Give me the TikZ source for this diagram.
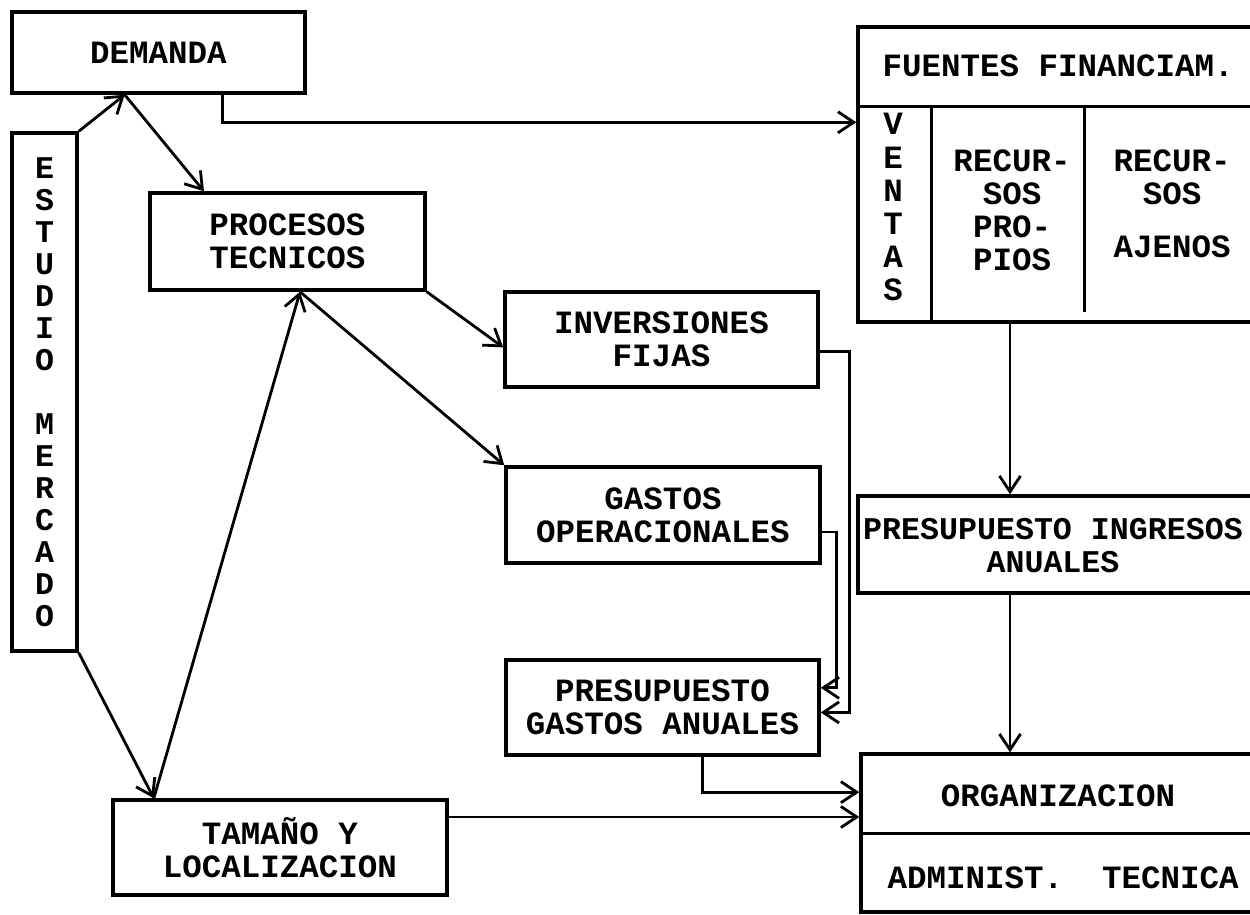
\documentclass[tikz,border=0pt]{standalone}
\usepackage{fontspec}
\setmonofont{Liberation Mono}
\usetikzlibrary{positioning, calc, arrows.meta}

\begin{document}
\begin{tikzpicture}[x=0.02cm, y=-0.02cm,
				every node/.style={font=\ttfamily\bfseries\fontsize{18.5}{18.8}\selectfont},
				caja/.style={draw, line width=2pt, inner sep=0pt, align=center},
				flecha/.style={line width=1.6pt, -{Straight Barb[length=9pt,width=12pt]}}]
				\useasboundingbox (0,0) rectangle (1250,914);
				\clip (0,0) rectangle (1250,914);
				\node[caja, minimum width=5.86cm, minimum height=1.62cm] (demanda) at (158.5,52.5) {DEMANDA};
				\node[caja, minimum width=1.3cm, minimum height=10.36cm, font=\ttfamily\bfseries\fontsize{18}{18.2}\selectfont] (estudio) at (44.5,392)
				{E\\S\\T\\U\\D\\I\\O\\[18.2pt]M\\E\\R\\C\\A\\D\\O};
				\node[caja, minimum width=5.5cm, minimum height=1.94cm] (procesos) at (287.5,241.5) {PROCESOS\\TECNICOS};
				\node[caja, minimum width=6.26cm, minimum height=1.9cm] (inversiones) at (661.5,339.5) {INVERSIONES\\FIJAS};
				\node[caja, minimum width=6.28cm, minimum height=1.92cm] (operacionales) at (663,515) {GASTOS\\OPERACIONALES};
				\node[caja, minimum width=6.26cm, minimum height=1.9cm] (gastos) at (662.5,707.5) {PRESUPUESTO\\GASTOS ANUALES};
				\node[caja, minimum width=6.68cm, minimum height=1.9cm] (tamano) at (280,847.5) {TAMAÑO Y\\LOCALIZACION};
				\node[caja, minimum width=8.08cm, minimum height=5.9cm] (fuentes) at (1060,174.5) {};
				\draw[line width=2pt] ($(fuentes.north west)+(0,81)$) -- ($(fuentes.north east)+(0,81)$);
				\draw[line width=2pt] ($(fuentes.north west)+(75,81)$) -- ($(fuentes.south west)+(75,0)$);
				\draw[line width=2pt] ($(fuentes.north west)+(228,81)$) -- ($(fuentes.south west)+(228,-12)$);
				\node[anchor=west] (titulofuentes) at ($(fuentes.north west)+(20,41)$) {FUENTES FINANCIAM.};
				\node[align=center] (ventas) at (893,207) {V\\E\\N\\T\\A\\S};
				\node[align=center] (propios) at (1012,210) {RECUR-\\SOS\\PRO-\\PIOS};
				\node[align=center] (ajenos) at (1172,204) {RECUR-\\SOS\\[0.4cm]AJENOS};
				\node[caja, minimum width=8.08cm, minimum height=1.94cm] (ingresos) at (1060,544.5) {};
				\node[align=center, font=\ttfamily\bfseries\fontsize{18}{18.8}\selectfont] (textoingresos) at (1053,546) {PRESUPUESTO INGRESOS\\ANUALES};
				\node[caja, minimum width=8.04cm, minimum height=3.16cm] (organizacion) at (1062,833) {};
				\draw[line width=2pt] ($(organizacion.north west)+(0,81)$) -- ($(organizacion.north east)+(0,81)$);
				\node (tituloorg) at ($(organizacion.north)+(-4,44)$) {ORGANIZACION};
				\node[anchor=west] (areas) at ($(organizacion.north west)+(22,126)$) {ADMINIST.~~TECNICA};
				\coordinate (pie) at ($(demanda.south west)!0.386!(demanda.south east)$);
				\coordinate (base) at ($(procesos.south west)!0.545!(procesos.south east)$);
				\coordinate (cima) at ($(tamano.north west)!0.126!(tamano.north east)$);
				\coordinate (lado) at ($(tamano.north east)!0.19!(tamano.south east)$);
				\coordinate (eje) at (1010,0);
				\draw[flecha] (estudio.north east) -- (pie);
				\draw[flecha] (pie) -- ($(procesos.north west)!0.2!(procesos.north east)$);
				\draw[flecha] ($(demanda.south west)!0.717!(demanda.south east)$) |- ($(fuentes.north west)!0.325!(fuentes.south west)$);
				\draw[flecha] (procesos.south east) -- ($(inversiones.north west)!0.58!(inversiones.south west)$);
				\draw[flecha] (base) -- (operacionales.north west);
				\draw[flecha] (cima) -- (base);
				\draw[flecha] (estudio.south east) -- (cima);
				\draw[flecha] ($(inversiones.north east)!0.62!(inversiones.south east)$) -- ++(30,0) |- ($(gastos.north east)!0.55!(gastos.south east)$);
				\draw[flecha] ($(operacionales.north east)!0.67!(operacionales.south east)$) -- ++(15,0) |- ($(gastos.north east)!0.3!(gastos.south east)$);
				\draw[flecha] (fuentes.south -| eje) -- (ingresos.north -| eje);
				\draw[flecha] (ingresos.south -| eje) -- (organizacion.north -| eje);
				\draw[flecha] ($(gastos.south west)!0.626!(gastos.south east)$) |- ($(organizacion.north west)!0.247!(organizacion.south west)$);
				\draw[flecha] (lado) -- (lado -| organizacion.west);
			\end{tikzpicture}
\end{document}
